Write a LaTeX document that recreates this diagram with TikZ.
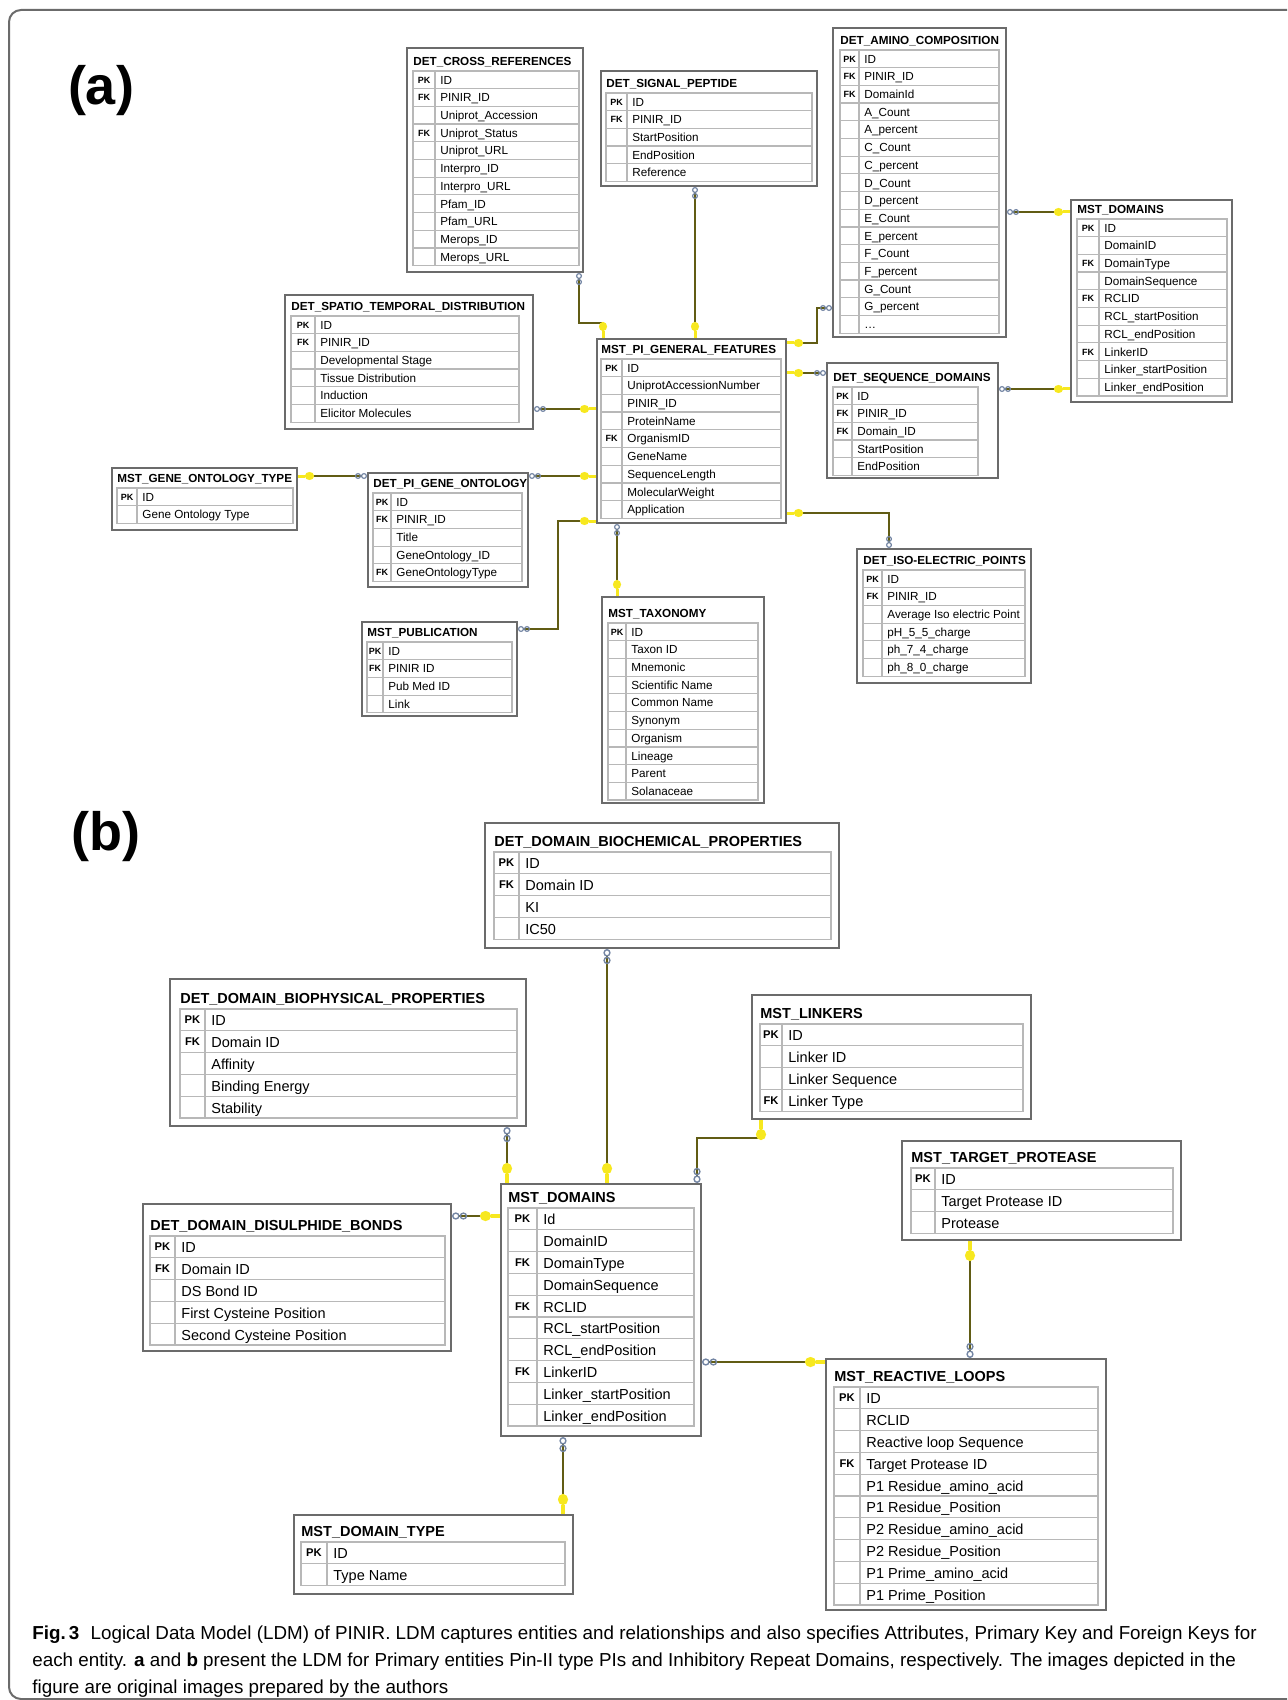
\documentclass[tikz,border=0pt]{standalone}
\usepackage{fontspec}
\setmainfont{Liberation Sans}
\newfontfamily\capfont{Liberation Sans}
\usetikzlibrary{arrows.meta,calc,fit}
\definecolor{relcolor}{rgb}{0.38,0.36,0.08}
\definecolor{keyyellow}{rgb}{0.97,0.91,0.12}
\definecolor{linkgray}{rgb}{0.45,0.52,0.64}
\definecolor{framegray}{rgb}{0.42,0.42,0.42}
\definecolor{rowgray}{rgb}{0.72,0.72,0.72}

%% one entity box: name, outer corners, title, inner left/right/top, key column, rows
\newcommand{\ertable}[9]{%
  \node[table frame, fit={#2 #3}] (#1) {};
  \node[table title] (#1-title) at (#5, #7-\titleup) {#4};
  \foreach \k/\f [count=\i from 0] in {#9} {
    \draw[row line] (#5,{#7+\i*\rowh}) rectangle (#6,{#7+(\i+1)*\rowh});
    \draw[row line] (#8,{#7+\i*\rowh}) -- (#8,{#7+(\i+1)*\rowh});
    \node[key text] (#1-k\i) at ({(#5+#8)/2},{#7+(\i+0.5)*\rowh+\keyoff}) {\k};
    \node[field text] (#1-f\i) at (#8,{#7+(\i+0.5)*\rowh+\baseoff}) {\f};
  }
}

\begin{document}
\begin{tikzpicture}[x=0.5pt,y=-0.5pt]
  %%Styles for the boxes and the relations
  \tikzset{table frame/.style={draw=framegray,line width=1pt,fill=white,inner sep=0pt}}
  \tikzset{row line/.style={draw=rowgray,line width=0.6pt}}
  \tikzset{rel line/.style={draw=relcolor,line width=1.3pt,
      {Circle[open,length=3pt,width=3pt,line width'=0.6pt,color=linkgray]Circle[open,length=3pt,width=3pt,line width'=0.6pt,color=linkgray]}-{Circle[length=4.5pt,width=4pt,color=keyyellow]Rectangle[length=3.5pt,width=1.5pt,color=keyyellow]}}}
  \tikzset{rel big/.style={draw=relcolor,line width=1.4pt,
      {Circle[open,length=3.8pt,width=3.6pt,line width'=0.7pt,color=linkgray]Circle[open,length=3.8pt,width=3.6pt,line width'=0.7pt,color=linkgray]}-{Circle[length=5.5pt,width=5pt,color=keyyellow]Rectangle[length=4.5pt,width=1.8pt,color=keyyellow]}}}
  \tikzset{panel frame/.style={draw=framegray,line width=1pt,rounded corners=6pt}}
  \tikzstyle{panel label} = [font=\fontsize{27pt}{30pt}\selectfont\bfseries]
  \tikzstyle{caption line} = [anchor=base west,inner sep=0pt,font=\capfont\fontsize{9.4pt}{12pt}\selectfont]
  \useasboundingbox (0,0) rectangle (1287,1700);
  \clip (0,0) rectangle (1287,1700);
  \draw[panel frame] (9,10) rectangle (1320,1699);
  \node[panel label] (la) at (101,91) {(a)};
  \node[panel label] (lb) at (106,837) {(b)};

  %%Part (a)
  \def\rowh{17.7}\def\titleup{5.5}\def\baseoff{4.3}\def\keyoff{3.3}
  \tikzset{table title/.style={anchor=base west,inner sep=0pt,font=\fontsize{5.85pt}{7pt}\selectfont\bfseries}}
  \tikzset{field text/.style={anchor=base west,inner xsep=2.5pt,inner ysep=0pt,font=\fontsize{5.85pt}{7pt}\selectfont}}
  \tikzset{key text/.style={anchor=base,inner sep=0pt,font=\fontsize{4.5pt}{5pt}\selectfont\bfseries}}
  \ertable{crossref}{(407,48)}{(583,272)}{DET\_CROSS\_REFERENCES}{413}{579}{71}{435}{PK/ID, FK/PINIR\_ID, /Uniprot\_Accession, FK/Uniprot\_Status, /Uniprot\_URL, /Interpro\_ID, /Interpro\_URL, /Pfam\_ID, /Pfam\_URL, /Merops\_ID, /Merops\_URL}
  \ertable{signal}{(601,71)}{(817,186)}{DET\_SIGNAL\_PEPTIDE}{606}{812}{93}{627}{PK/ID, FK/PINIR\_ID, /StartPosition, /EndPosition, /Reference}
  \ertable{amino}{(833,28)}{(1006,337)}{DET\_AMINO\_COMPOSITION}{840}{999}{50}{859}{PK/ID, FK/PINIR\_ID, FK/DomainId, /A\_Count, /A\_percent, /C\_Count, /C\_percent, /D\_Count, /D\_percent, /E\_Count, /E\_percent, /F\_Count, /F\_percent, /G\_Count, /G\_percent, /\ldots}
  \ertable{domainsA}{(1071,200)}{(1232,402)}{MST\_DOMAINS}{1077}{1227}{219}{1099}{PK/ID, /DomainID, FK/DomainType, /DomainSequence, FK/RCLID, /RCL\_startPosition, /RCL\_endPosition, FK/LinkerID, /Linker\_startPosition, /Linker\_endPosition}
  \ertable{spatio}{(285,295)}{(533,429)}{DET\_SPATIO\_TEMPORAL\_DISTRIBUTION}{291}{519}{316}{315}{PK/ID, FK/PINIR\_ID, /Developmental Stage, /Tissue Distribution, /Induction, /Elicitor Molecules}
  \ertable{general}{(597,339)}{(786,523)}{MST\_PI\_GENERAL\_FEATURES}{601}{781}{359}{622}{PK/ID, /UniprotAccessionNumber, /PINIR\_ID, /ProteinName, FK/OrganismID, /GeneName, /SequenceLength, /MolecularWeight, /Application}
  \ertable{seqdom}{(827,363)}{(998,478)}{DET\_SEQUENCE\_DOMAINS}{833}{978}{387}{852}{PK/ID, FK/PINIR\_ID, FK/Domain\_ID, /StartPosition, /EndPosition}
  \ertable{gotype}{(112,468)}{(297,530)}{MST\_GENE\_ONTOLOGY\_TYPE}{117}{293}{488}{137}{PK/ID, /Gene Ontology Type}
  \ertable{geneont}{(368,473)}{(528,587)}{DET\_PI\_GENE\_ONTOLOGY}{373}{522}{493}{391}{PK/ID, FK/PINIR\_ID, /Title, /GeneOntology\_ID, FK/GeneOntologyType}
  \ertable{pub}{(362,622)}{(517,716)}{MST\_PUBLICATION}{367}{512}{642}{383}{PK/ID, FK/PINIR ID, /Pub Med ID, /Link}
  \ertable{taxo}{(602,597)}{(764,803)}{MST\_TAXONOMY}{608}{758}{623}{626}{PK/ID, /Taxon ID, /Mnemonic, /Scientific Name, /Common Name, /Synonym, /Organism, /Lineage, /Parent, /Solanaceae}
  \ertable{isoel}{(857,549)}{(1031,683)}{DET\_ISO-ELECTRIC\_POINTS}{863}{1025}{570}{882}{PK/ID, FK/PINIR\_ID, /Average Iso electric Point, /pH\_5\_5\_charge, /ph\_7\_4\_charge, /ph\_8\_0\_charge}
  %%Relations of part (a), many end first
  \draw[rel line] ($(crossref.south east)+(-5,0)$) -- ++(0,50) -| ($(general.north west)+(7,0)$);
  \draw[rel line] ($(signal.south)+(-14,0)$) coordinate (c2) -- (c2 |- general.north);
  \draw[rel line] ($(amino.south west)+(0,-30)$) -- ++(-15,0) |- ($(general.north east)+(0,5)$);
  \path ($(domainsA.north west)+(0,13)$) coordinate (c4);
  \draw[rel line] (c4 -| amino.east) -- (c4);
  \path ($(domainsA.south west)+(0,-14)$) coordinate (c5);
  \draw[rel line] (c5 -| seqdom.east) -- (c5);
  \path ($(seqdom.north west)+(0,11)$) coordinate (c6);
  \draw[rel line] (c6) -- (c6 -| general.east);
  \path ($(spatio.south east)+(0,-21)$) coordinate (c7);
  \draw[rel line] (c7) -- (c7 -| general.west);
  \path ($(geneont.north east)+(0,4)$) coordinate (c8);
  \draw[rel line] (c8) -- (c8 -| general.west);
  \draw[rel line] (c8 -| geneont.west) -- (c8 -| gotype.east);
  \draw[rel line] ($(pub.north east)+(0,8)$) -- ++(40,0) |- ($(general.south west)+(0,-3)$);
  \path ($(general.south west)+(21,0)$) coordinate (c11);
  \draw[rel line] (c11) -- (c11 |- taxo.north);
  \draw[rel line] ($(isoel.north west)+(33,0)$) |- ($(general.south east)+(0,-11)$);

  %%Part (b)
  \def\rowh{21.8}\def\titleup{6}\def\baseoff{6}\def\keyoff{4}
  \tikzset{table title/.style={anchor=base west,inner sep=0pt,font=\fontsize{7.25pt}{8pt}\selectfont\bfseries}}
  \tikzset{field text/.style={anchor=base west,inner xsep=3pt,inner ysep=0pt,font=\fontsize{7.25pt}{8pt}\selectfont}}
  \tikzset{key text/.style={anchor=base,inner sep=0pt,font=\fontsize{5.6pt}{6pt}\selectfont\bfseries}}
  \ertable{biochem}{(485,823)}{(839,948)}{DET\_DOMAIN\_BIOCHEMICAL\_PROPERTIES}{494}{831}{852}{519}{PK/ID, FK/Domain ID, /KI, /IC50}
  \ertable{biophys}{(170,979)}{(526,1126)}{DET\_DOMAIN\_BIOPHYSICAL\_PROPERTIES}{180}{517}{1009}{205}{PK/ID, FK/Domain ID, /Affinity, /Binding Energy, /Stability}
  \ertable{linkers}{(752,995)}{(1031,1119)}{MST\_LINKERS}{760}{1023}{1024}{782}{PK/ID, /Linker ID, /Linker Sequence, FK/Linker Type}
  \ertable{domainsB}{(501,1184)}{(701,1436)}{MST\_DOMAINS}{508}{694}{1208}{537}{PK/Id, /DomainID, FK/DomainType, /DomainSequence, FK/RCLID, /RCL\_startPosition, /RCL\_endPosition, FK/LinkerID, /Linker\_startPosition, /Linker\_endPosition}
  \ertable{target}{(902,1141)}{(1181,1240)}{MST\_TARGET\_PROTEASE}{911}{1173}{1168}{935}{PK/ID, /Target Protease ID, /Protease}
  \ertable{disulph}{(143,1204)}{(451,1351)}{DET\_DOMAIN\_DISULPHIDE\_BONDS}{150}{445}{1236}{175}{PK/ID, FK/Domain ID, /DS Bond ID, /First Cysteine Position, /Second Cysteine Position}
  \ertable{reactive}{(826,1359)}{(1106,1610)}{MST\_REACTIVE\_LOOPS}{834}{1098}{1387}{860}{PK/ID, /RCLID, /Reactive loop Sequence, FK/Target Protease ID, /P1 Residue\_amino\_acid, /P1 Residue\_Position, /P2 Residue\_amino\_acid, /P2 Residue\_Position, /P1 Prime\_amino\_acid, /P1 Prime\_Position}
  \ertable{dtype}{(294,1515)}{(573,1594)}{MST\_DOMAIN\_TYPE}{301}{565}{1542}{327}{PK/ID, /Type Name}
  %%Relations of part (b)
  \path ($(biochem.south west)+(123,0)$) coordinate (c13);
  \draw[rel big] (c13) -- (c13 |- domainsB.north);
  \path ($(biophys.south east)+(-20,0)$) coordinate (c14);
  \draw[rel big] (c14) -- (c14 |- domainsB.north);
  \draw[rel big] ($(domainsB.north east)+(-5,0)$) -- ++(0,-45) -| ($(linkers.south west)+(10,0)$);
  \path ($(disulph.north east)+(0,13)$) coordinate (c16);
  \draw[rel big] (c16) -- (c16 -| domainsB.west);
  \path ($(reactive.north west)+(0,4)$) coordinate (c17);
  \draw[rel big] (c17 -| domainsB.east) -- (c17);
  \path ($(target.south west)+(69,0)$) coordinate (c18);
  \draw[rel big] (c18 |- reactive.north) -- (c18);
  \path ($(domainsB.south west)+(63,0)$) coordinate (c19);
  \draw[rel big] (c19) -- (c19 |- dtype.north);

  %%Caption
  \node[caption line] (cap1) at (32,1639) {\textbf{Fig.\,3}\hspace{0.6em}Logical Data Model (LDM) of PINIR. LDM captures entities and relationships and also specifies Attributes, Primary Key and Foreign Keys for};
  \node[caption line] (cap2) at (32,1666) {each entity. \textbf{a} and \textbf{b} present the LDM for Primary entities Pin-II type PIs and Inhibitory Repeat Domains, respectively. The images depicted in the};
  \node[caption line] (cap3) at (32,1693) {figure are original images prepared by the authors};
\end{tikzpicture}
\end{document}
